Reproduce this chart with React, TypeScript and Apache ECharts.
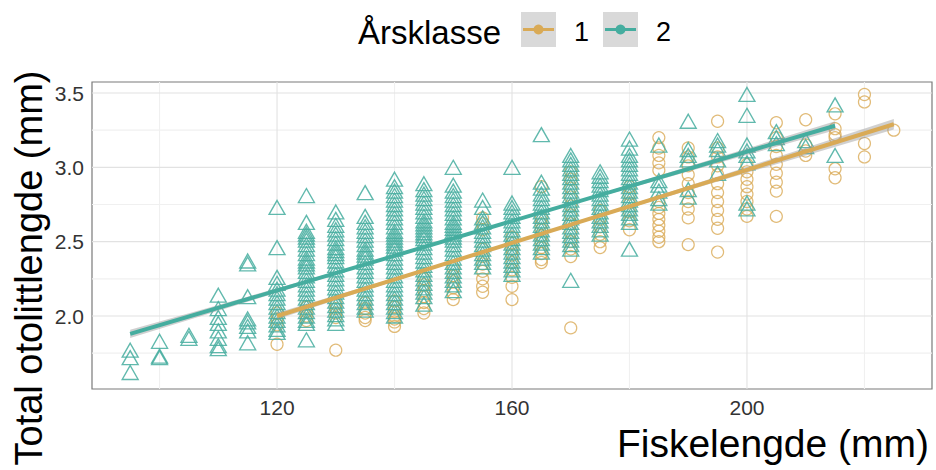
import React, { useEffect, useRef } from "react";
import * as echarts from "echarts";

// ---- axes ----
const xRange = [88.5, 231.5];
const yRange = [1.509, 3.574];
const xTicks = [120, 160, 200];
const yTicks = [2.0, 2.5, 3.0, 3.5];
const xMinor = [100, 140, 180, 220];
const yMinor = [1.75, 2.25, 2.75, 3.25];

// ---- legend ----
const legendTitle = "Årsklasse";
const classLabels = ["1", "2"];
const xTitle = "Fiskelengde (mm)";
const yTitle = "Total otolittlengde (mm)";

// ---- Årsklasse 1 (circles): [fish length, otolith lengths] ----
const class1Columns: [number, number[]][] = [
  [120, [2.02, 1.98, 1.94, 1.81]],
  [125, [2.06, 2.03, 2.0, 1.97]],
  [130, [2.08, 2.05, 2.02, 1.99, 1.77]],
  [135, [2.09, 2.05, 2.02, 1.99, 1.97]],
  [140, [2.1, 2.06, 2.03, 2.0, 1.98, 1.96, 1.93]],
  [145, [2.25, 2.21, 2.17, 2.13, 2.09, 2.05, 2.02]],
  [150, [2.32, 2.27, 2.23, 2.19, 2.15, 2.11]],
  [155, [2.66, 2.62, 2.58, 2.45, 2.4, 2.35, 2.3, 2.25, 2.2, 2.16]],
  [160, [2.53, 2.49, 2.45, 2.41, 2.36, 2.31, 2.26, 2.2, 2.11]],
  [165, [2.87, 2.66, 2.62, 2.58, 2.54, 2.5, 2.46, 2.42, 2.38, 2.36]],
  [170, [2.97, 2.92, 2.86, 2.8, 2.74, 2.68, 2.62, 2.56, 2.5, 2.45, 2.4, 1.92]],
  [175, [2.71, 2.65, 2.6, 2.55, 2.5, 2.46]],
  [180, [2.87, 2.82, 2.76, 2.7, 2.64, 2.58]],
  [185, [3.2, 3.13, 3.08, 3.03, 2.98, 2.77, 2.73, 2.69, 2.65, 2.61, 2.57, 2.53, 2.5]],
  [190, [3.13, 3.07, 3.01, 2.95, 2.89, 2.83, 2.77, 2.72, 2.66, 2.48]],
  [195, [3.31, 3.13, 3.07, 3.01, 2.95, 2.89, 2.83, 2.77, 2.71, 2.65, 2.59, 2.43]],
  [200, [3.02, 2.97, 2.92, 2.87, 2.82, 2.77, 2.72, 2.67]],
  [205, [3.3, 3.2, 3.14, 3.08, 3.02, 2.96, 2.9, 2.84, 2.67]],
  [210, [3.32, 3.15, 3.11, 3.08]],
  [215, [3.36, 3.26, 3.22, 3.2, 2.99, 2.93]],
  [220, [3.49, 3.44, 3.16, 3.07]],
  [225, [3.25]],
];

// ---- Årsklasse 2 (triangles) ----
const class2Columns: [number, number[]][] = [
  [95, [1.77, 1.72, 1.62]],
  [100, [1.83, 1.73, 1.72]],
  [105, [1.87, 1.85]],
  [110, [2.14, 2.05, 1.99, 1.95, 1.9, 1.85, 1.8, 1.78]],
  [115, [2.37, 2.35, 2.13, 1.98, 1.96, 1.93, 1.9, 1.82]],
  [120, [2.73, 2.46, 2.26, 2.22, 2.18, 2.15, 2.12, 2.09, 2.06, 2.03, 2.0, 1.97, 1.94, 1.91, 1.89]],
  [125, [2.81, 2.63, 2.57, 2.55, 2.53, 2.51, 2.48, 2.45, 2.42, 2.39, 2.37, 2.35, 2.33, 2.3, 2.27, 2.24, 2.21, 2.18, 2.15, 2.12, 2.09, 2.06, 2.03, 2.0, 1.97, 1.95, 1.84]],
  [130, [2.7, 2.65, 2.61, 2.58, 2.55, 2.52, 2.49, 2.46, 2.44, 2.42, 2.4, 2.37, 2.34, 2.31, 2.28, 2.25, 2.22, 2.19, 2.16, 2.13, 2.1, 2.07, 2.04, 2.01, 1.98, 1.95]],
  [135, [2.83, 2.67, 2.63, 2.6, 2.57, 2.54, 2.51, 2.48, 2.45, 2.43, 2.41, 2.39, 2.36, 2.33, 2.3, 2.27, 2.24, 2.21, 2.18, 2.15, 2.12, 2.09, 2.06, 2.04]],
  [140, [2.92, 2.87, 2.84, 2.81, 2.78, 2.75, 2.72, 2.69, 2.66, 2.63, 2.6, 2.57, 2.55, 2.53, 2.51, 2.49, 2.47, 2.45, 2.42, 2.39, 2.36, 2.33, 2.3, 2.27, 2.24, 2.21, 2.18, 2.15, 2.12, 2.09, 2.06, 2.03, 2.0]],
  [145, [2.89, 2.85, 2.82, 2.79, 2.76, 2.73, 2.7, 2.67, 2.64, 2.62, 2.6, 2.58, 2.56, 2.54, 2.52, 2.49, 2.46, 2.43, 2.4, 2.37, 2.34, 2.31, 2.28, 2.25, 2.22, 2.19, 2.16, 2.13, 2.08]],
  [150, [3.0, 2.88, 2.84, 2.81, 2.78, 2.75, 2.72, 2.69, 2.66, 2.63, 2.61, 2.59, 2.57, 2.55, 2.53, 2.51, 2.48, 2.45, 2.42, 2.39, 2.36, 2.33, 2.3, 2.27, 2.24, 2.21, 2.17]],
  [155, [2.78, 2.73, 2.66, 2.63, 2.6, 2.57, 2.54, 2.51, 2.48, 2.45, 2.42, 2.39, 2.36, 2.33]],
  [160, [3.0, 2.76, 2.73, 2.7, 2.67, 2.64, 2.61, 2.58, 2.55, 2.52, 2.49, 2.46, 2.43, 2.4, 2.37, 2.34, 2.31, 2.28]],
  [165, [3.22, 2.9, 2.86, 2.82, 2.79, 2.76, 2.73, 2.7, 2.67, 2.64, 2.61, 2.58, 2.55, 2.52, 2.49, 2.46, 2.43]],
  [170, [3.08, 3.05, 3.02, 2.99, 2.96, 2.93, 2.9, 2.87, 2.84, 2.81, 2.78, 2.75, 2.72, 2.69, 2.66, 2.63, 2.6, 2.57, 2.54, 2.51, 2.48, 2.45, 2.24]],
  [175, [2.97, 2.94, 2.91, 2.88, 2.85, 2.82, 2.79, 2.76, 2.73, 2.7, 2.67, 2.64, 2.61, 2.58, 2.55]],
  [180, [3.19, 3.13, 3.08, 3.05, 3.02, 2.99, 2.96, 2.93, 2.9, 2.87, 2.84, 2.81, 2.78, 2.75, 2.72, 2.69, 2.66, 2.63, 2.45]],
  [185, [3.15, 2.91, 2.88, 2.84, 2.79, 2.76]],
  [190, [3.31, 3.12, 3.08, 3.05, 2.85, 2.8]],
  [195, [3.18, 3.15, 3.12, 3.05, 2.96]],
  [200, [3.49, 3.35, 3.15, 3.11, 3.08, 3.03, 2.76, 2.72]],
  [205, [3.24, 3.2, 3.16]],
  [210, [3.18, 3.14]],
  [215, [3.42, 3.08]],
];

// ---- fitted lines ----
const fit1: [number, number][] = [[120, 2.0], [225, 3.29]];
const fit2: [number, number][] = [[95, 1.88], [215, 3.28]];

// ---- confidence bands: x, lower, upper ----
const band1X = [120, 140, 160, 180, 200, 225];
const band1Lo = [1.978, 2.236, 2.484, 2.727, 2.963, 3.255];
const band1Hi = [2.022, 2.256, 2.498, 2.747, 3.003, 3.325];
const band2X = [95, 115, 135, 155, 175, 195, 215];
const band2Lo = [1.852, 2.096, 2.339, 2.574, 2.803, 3.028, 3.25];
const band2Hi = [1.908, 2.13, 2.355, 2.586, 2.823, 3.066, 3.31];

const GOLD = "#D9AA56";
const TEAL = "#45AD9F";
const FONT = "'Liberation Sans', Arial, sans-serif";

function flatten(cols: [number, number[]][]) {
  const out: [number, number][] = [];
  cols.forEach(([x, ys]) => ys.forEach((y) => out.push([x, y])));
  return out;
}

function bandSeries(xs: number[], lo: number[], hi: number[]) {
  return {
    type: "custom",
    silent: true,
    z: 3,
    data: [0],
    renderItem: (params: any, api: any) => {
      const pts: number[][] = [];
      xs.forEach((x, i) => pts.push(api.coord([x, hi[i]])));
      for (let i = xs.length - 1; i >= 0; i--) pts.push(api.coord([xs[i], lo[i]]));
      return {
        type: "polygon",
        shape: { points: pts },
        style: { fill: "rgba(150,150,150,0.45)", stroke: "none" },
      };
    },
  };
}

function gridSeries(values: number[], vertical: boolean, color: string) {
  return {
    type: "custom",
    silent: true,
    z: 0,
    data: values,
    renderItem: (params: any, api: any) => {
      const cs = params.coordSys;
      const v = api.value(0);
      if (vertical) {
        const px = api.coord([v, yRange[0]])[0];
        return {
          type: "line",
          shape: { x1: px, y1: cs.y, x2: px, y2: cs.y + cs.height },
          style: { stroke: color, lineWidth: 1.1 },
        };
      }
      const py = api.coord([xRange[0], v])[1];
      return {
        type: "line",
        shape: { x1: cs.x, y1: py, x2: cs.x + cs.width, y2: py },
        style: { stroke: color, lineWidth: 1.1 },
      };
    },
  };
}

export default function App() {
  const ref = useRef<HTMLDivElement>(null);
  useEffect(() => {
    if (!ref.current) return;
    const chart = echarts.init(ref.current, undefined, { renderer: "svg" });
    const keyX = [521, 603];
    const labelX = [574, 656];
    const colors = [GOLD, TEAL];
    const legendGraphics: any[] = [
      {
        type: "text",
        x: 358,
        y: 32,
        style: { text: legendTitle, font: `33px ${FONT}`, fill: "#000", align: "left", verticalAlign: "middle" },
      },
    ];
    classLabels.forEach((lab, i) => {
      legendGraphics.push(
        { type: "rect", shape: { x: keyX[i], y: 12, width: 35, height: 35 }, style: { fill: "#D9D9D9" } },
        { type: "line", shape: { x1: keyX[i] + 2, y1: 29.5, x2: keyX[i] + 33, y2: 29.5 }, style: { stroke: colors[i], lineWidth: 3 } },
        { type: "circle", shape: { cx: keyX[i] + 17.5, cy: 29.5, r: 5 }, style: { fill: colors[i] } },
        {
          type: "text",
          x: labelX[i],
          y: 32,
          style: { text: lab, font: `27px ${FONT}`, fill: "#000", align: "left", verticalAlign: "middle" },
        }
      );
    });
    legendGraphics.push(
      {
        type: "text",
        x: 929,
        y: 443,
        style: { text: xTitle, font: `39px ${FONT}`, fill: "#000", align: "right", verticalAlign: "middle" },
      },
      {
        type: "text",
        x: 29,
        y: 268,
        rotation: Math.PI / 2,
        style: { text: yTitle, font: `38px ${FONT}`, fill: "#000", align: "center", verticalAlign: "middle" },
      }
    );

    chart.setOption({
      animation: false,
      backgroundColor: "#fff",
      grid: {
        left: 92,
        right: 4,
        top: 82,
        bottom: 81,
        show: true,
        borderColor: "#7a7a7a",
        borderWidth: 1.2,
        backgroundColor: "transparent",
      },
      xAxis: {
        type: "value",
        min: xRange[0],
        max: xRange[1],
        axisLine: { show: false },
        axisTick: { show: false },
        splitLine: { show: false },
        axisLabel: {
          customValues: xTicks,
          margin: 8,
          fontSize: 21,
          fontFamily: FONT,
          color: "#333",
        },
      },
      yAxis: {
        type: "value",
        min: yRange[0],
        max: yRange[1],
        axisLine: { show: false },
        axisTick: { show: false },
        splitLine: { show: false },
        axisLabel: {
          customValues: yTicks,
          margin: 8,
          fontSize: 21,
          fontFamily: FONT,
          color: "#333",
          formatter: (v: number) => v.toFixed(1),
        },
      },
      graphic: legendGraphics,
      series: [
        gridSeries(xMinor, true, "#F0F0F0"),
        gridSeries(yMinor, false, "#F0F0F0"),
        gridSeries(xTicks, true, "#E2E2E2"),
        gridSeries(yTicks, false, "#E2E2E2"),
        {
          type: "scatter",
          z: 2,
          data: flatten(class1Columns),
          symbol: "circle",
          symbolSize: 12,
          itemStyle: { color: "rgba(255,255,255,0)", borderColor: GOLD, borderWidth: 1.2, opacity: 0.8 },
        },
        {
          type: "scatter",
          z: 2,
          data: flatten(class2Columns),
          symbol: "triangle",
          symbolSize: [16, 14],
          itemStyle: { color: "rgba(255,255,255,0)", borderColor: TEAL, borderWidth: 1.35, opacity: 0.85 },
        },
        bandSeries(band1X, band1Lo, band1Hi),
        bandSeries(band2X, band2Lo, band2Hi),
        {
          type: "line",
          z: 4,
          data: fit1,
          symbol: "none",
          lineStyle: { color: GOLD, width: 4 },
        },
        {
          type: "line",
          z: 4,
          data: fit2,
          symbol: "none",
          lineStyle: { color: TEAL, width: 4 },
        },
      ],
    });
    return () => chart.dispose();
  }, []);
  return <div ref={ref} style={{ position: "fixed", left: 0, top: 0, width: 936, height: 470, background: "#fff" }} />;
}
